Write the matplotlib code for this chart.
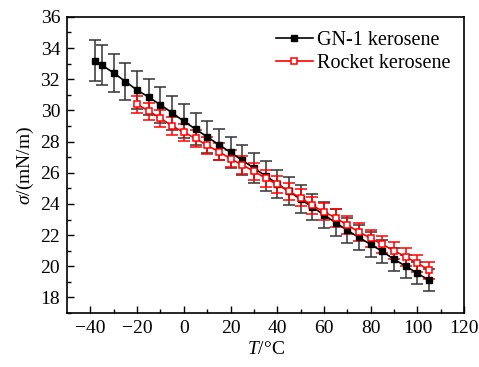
import matplotlib
matplotlib.use('Agg')
import matplotlib.pyplot as plt
from matplotlib.lines import Line2D
import numpy as np

# DATA
t_gn1 = [-38, -35, -30, -25, -20, -15, -10, -5, 0, 5, 10, 15, 20, 25, 30, 35,
         40, 45, 50, 55, 60, 65, 70, 75, 80, 85, 90, 95, 100, 105]
s_gn1 = [33.2, 32.9, 32.4, 31.85, 31.3, 30.85, 30.35, 29.85, 29.3, 28.8, 28.3, 27.8,
         27.3, 26.8, 26.3, 25.8, 25.3, 24.8, 24.3, 23.8, 23.3, 22.8, 22.3, 21.85,
         21.4, 20.95, 20.45, 20.0, 19.55, 19.1]
e_gn1 = [1.3, 1.3, 1.25, 1.2, 1.2, 1.15, 1.15, 1.1, 1.1, 1.05, 1.05, 1.0, 1.0, 0.95,
         0.95, 0.95, 0.9, 0.9, 0.9, 0.85, 0.85, 0.85, 0.8, 0.8, 0.8, 0.75, 0.75,
         0.75, 0.7, 0.7]

t_rk = [-20, -15, -10, -5, 0, 5, 10, 15, 20, 25, 30, 35, 40, 45, 50, 55, 60, 65,
        70, 75, 80, 85, 90, 95, 100, 105]
s_rk = [30.4, 29.95, 29.5, 29.0, 28.6, 28.2, 27.75, 27.35, 26.9, 26.5, 26.1, 25.65,
        25.25, 24.8, 24.4, 23.9, 23.5, 23.1, 22.65, 22.2, 21.8, 21.4, 21.0, 20.6,
        20.2, 19.75]
e_rk = [0.55] * len(t_rk)

plt.rcParams['font.family'] = ['Liberation Serif', 'DejaVu Serif']
plt.rcParams['font.size'] = 14
plt.rcParams['mathtext.fontset'] = 'custom'
plt.rcParams['mathtext.rm'] = 'Liberation Serif'
plt.rcParams['mathtext.it'] = 'Liberation Serif:italic'

fig = plt.figure(figsize=(4.79, 3.67), dpi=100)
ax = fig.add_axes([0.14, 0.147, 0.829, 0.807])

ax.errorbar(t_gn1, s_gn1, yerr=e_gn1, color='black', marker='s', ms=5,
            lw=1.2, elinewidth=1.1, capsize=4, capthick=1.1, ecolor='#333333')
ax.errorbar(t_rk, s_rk, yerr=e_rk, color='red', marker='s', ms=5, mfc='white',
            mec='red', mew=1.1, lw=1.2, elinewidth=1.1, capsize=4, capthick=1.1)

ax.set_xlim(-50, 120)
ax.set_ylim(17, 36)
ax.set_xticks(np.arange(-40, 121, 20))
ax.set_xticks(np.arange(-30, 121, 20), minor=True)
ax.set_yticks(np.arange(18, 37, 2))
ax.set_yticks(np.arange(17, 36, 2), minor=True)
ax.set_xticklabels(['\u221240', '\u221220', '0', '20', '40', '60', '80', '100', '120'])
ax.tick_params(direction='in', which='major', length=5, width=1, top=False, right=False,
               labelsize=14, pad=5)
ax.tick_params(direction='in', which='minor', length=3, width=1, top=False, right=False)
for sp in ax.spines.values():
    sp.set_linewidth(1.2)

ax.set_xlabel('$T$/\u00b0C', labelpad=3)
ax.set_ylabel('$\\sigma$/(mN/m)', labelpad=3)

handles = [
    Line2D([], [], color='black', marker='s', ms=5, lw=1.2),
    Line2D([], [], color='red', marker='s', ms=5, mfc='white', mec='red', mew=1.1, lw=1.2),
]
ax.legend(handles, ['GN-1 kerosene', 'Rocket kerosene'], loc='upper right',
          frameon=False, handlelength=1.8, handletextpad=0.2,
          borderaxespad=0.3, labelspacing=0.2, fontsize=14.5)

fig.savefig('out.png', dpi=100)
